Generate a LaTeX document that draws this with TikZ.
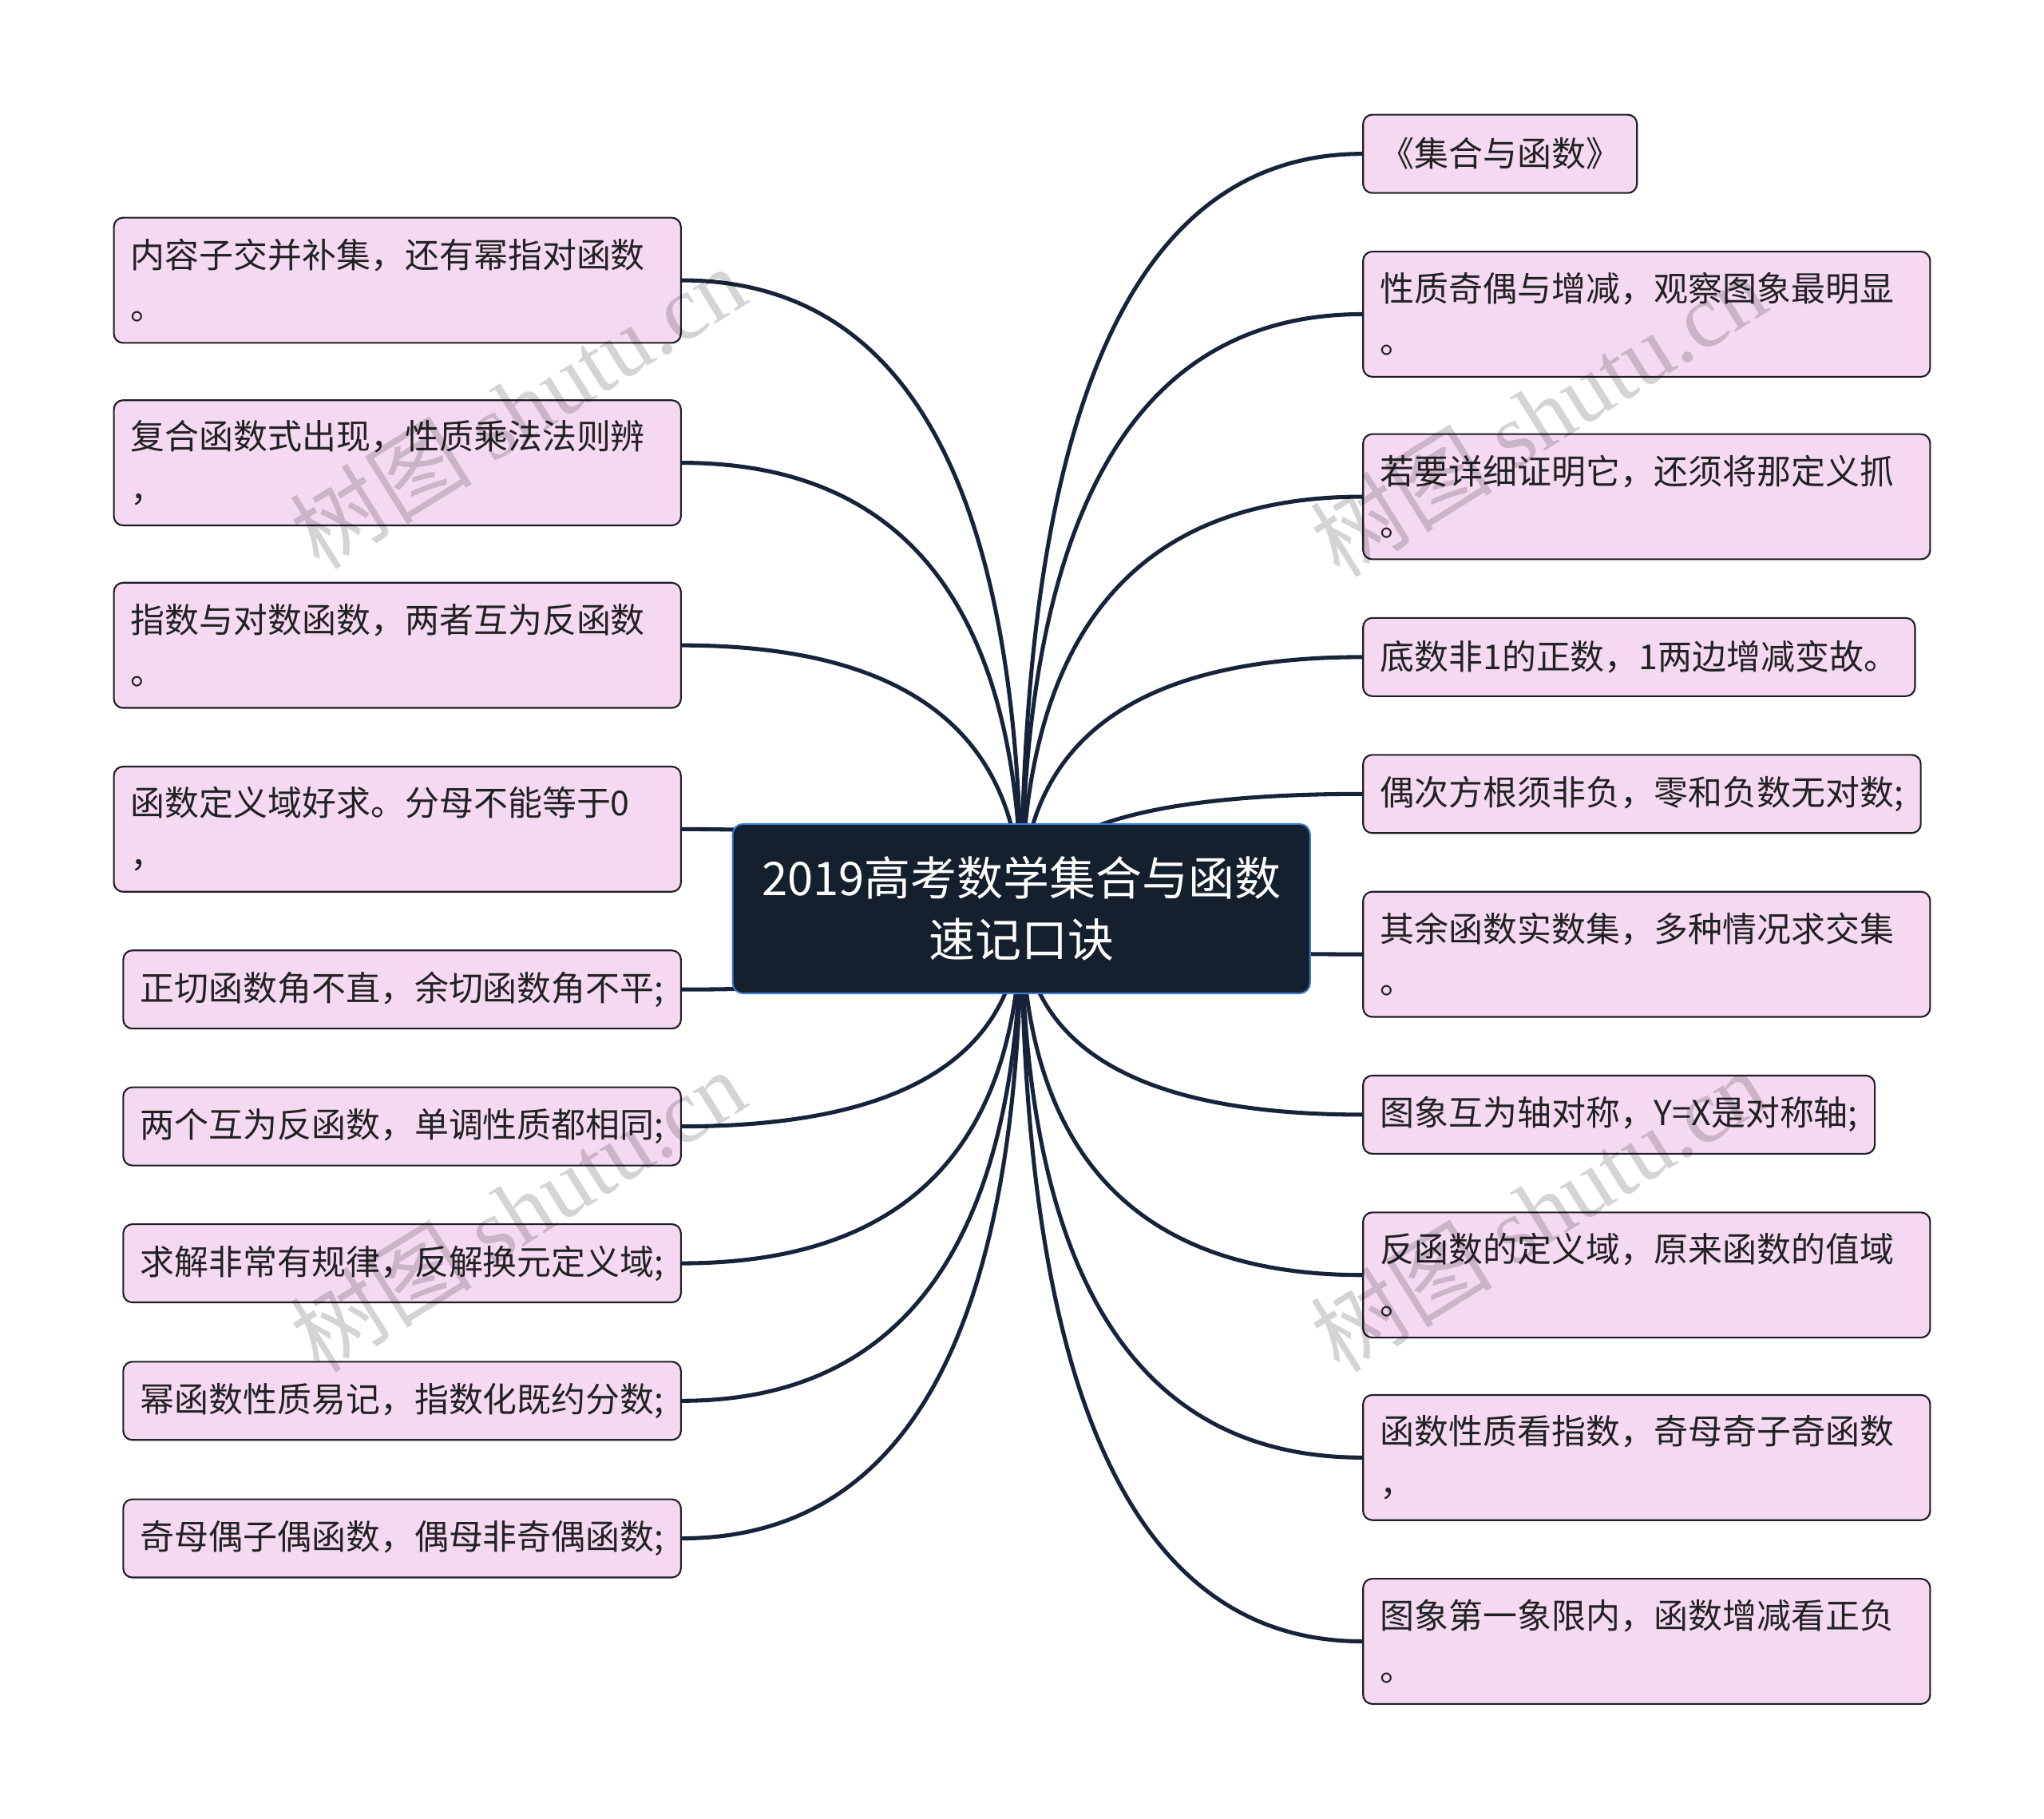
\documentclass[tikz,border=0pt]{standalone}
\usepackage{fontspec}
\setmainfont{Noto Sans CJK SC}
\newfontfamily\cjkf{Noto Sans CJK SC}
\newfontfamily\wmserif{Liberation Serif}
\usetikzlibrary{calc,backgrounds}
\definecolor{leaffill}{HTML}{F5D9F0}
\definecolor{leafline}{HTML}{1E1E24}
\definecolor{txt}{HTML}{222222}
\definecolor{rootfill}{HTML}{15202F}
\definecolor{rootline}{HTML}{3B7DD8}
\definecolor{connc}{HTML}{16233A}
\tikzset{
  leaf/.style={draw=leafline, fill=leaffill, rounded corners=7pt, line width=1.3pt,
    text=txt, align=left, inner xsep=13pt, inner ysep=0pt, minimum height=60pt,
    font=\fontsize{26.3pt}{40pt}\selectfont},
  leaftwo/.style={leaf, text width=409pt, minimum height=96pt},
  rootbox/.style={draw=rootline, fill=rootfill, rounded corners=8pt, line width=1.2pt,
    text=white, align=center, minimum width=443pt, minimum height=130pt,
    font=\fontsize{35.5pt}{47pt}\selectfont},
  conn/.style={draw=connc, line width=3.1pt},
  wm/.style={text=black, opacity=0.17, rotate=32, font=\fontsize{70pt}{70pt}\selectfont}
}
\begin{document}
\begin{tikzpicture}[x=1pt,y=-1pt]
\useasboundingbox (0,0) rectangle (1568,1395);
\node[rootbox] (root) at (783.5,697) {2019高考数学集合与函数\\速记口诀};
% left side
\node[leaftwo, anchor=east] (L1) at (523,215) {内容子交并补集，还有幂指对函数\\。};
\node[leaftwo, anchor=east] (L2) at (523,355) {复合函数式出现，性质乘法法则辨\\，};
\node[leaftwo, anchor=east] (L3) at (523,495) {指数与对数函数，两者互为反函数\\。};
\node[leaftwo, anchor=east] (L4) at (523,636) {函数定义域好求。分母不能等于0\\，};
\node[leaf, anchor=east] (L5) at (523,759) {正切函数角不直，余切函数角不平;};
\node[leaf, anchor=east] (L6) at (523,864) {两个互为反函数，单调性质都相同;};
\node[leaf, anchor=east] (L7) at (523,969) {求解非常有规律，反解换元定义域;};
\node[leaf, anchor=east] (L8) at (523,1074.5) {幂函数性质易记，指数化既约分数;};
\node[leaf, anchor=east] (L9) at (523,1180) {奇母偶子偶函数，偶母非奇偶函数;};
% right side
\node[leaf, anchor=west] (R1) at (1045,118) {《集合与函数》};
\node[leaftwo, anchor=west] (R2) at (1045,241) {性质奇偶与增减，观察图象最明显\\。};
\node[leaftwo, anchor=west] (R3) at (1045,381) {若要详细证明它，还须将那定义抓\\。};
\node[leaf, anchor=west] (R4) at (1045,504) {底数非1的正数，1两边增减变故。};
\node[leaf, anchor=west] (R5) at (1045,609) {偶次方根须非负，零和负数无对数;};
\node[leaftwo, anchor=west] (R6) at (1045,732) {其余函数实数集，多种情况求交集\\。};
\node[leaf, anchor=west] (R7) at (1045,855) {图象互为轴对称，Y=X是对称轴;};
\node[leaftwo, anchor=west] (R8) at (1045,978) {反函数的定义域，原来函数的值域\\。};
\node[leaftwo, anchor=west] (R9) at (1045,1118) {函数性质看指数，奇母奇子奇函数\\，};
\node[leaftwo, anchor=west] (R10) at (1045,1259) {图象第一象限内，函数增减看正负\\。};
\begin{pgfonlayer}{background}
\foreach \n/\a in {L1/east,L2/east,L3/east,L4/east,L5/east,L6/east,L7/east,L8/east,L9/east,
  R1/west,R2/west,R3/west,R4/west,R5/west,R6/west,R7/west,R8/west,R9/west,R10/west}{
  \coordinate (k) at (root.center |- \n.\a);
  \draw[conn] (root.center) .. controls ($(root.center)!0.6667!(k)$) and ($(\n.\a)!0.6667!(k)$) .. (\n.\a);
}
\end{pgfonlayer}
% watermarks
\node[wm] (wm1) at (397,312) {{\cjkf 树图} {\wmserif shutu.cn}};
\node[wm] (wm2) at (1180,318) {{\cjkf 树图} {\wmserif shutu.cn}};
\node[wm] (wm3) at (397,928) {{\cjkf 树图} {\wmserif shutu.cn}};
\node[wm] (wm4) at (1180,928) {{\cjkf 树图} {\wmserif shutu.cn}};
\end{tikzpicture}
\end{document}
